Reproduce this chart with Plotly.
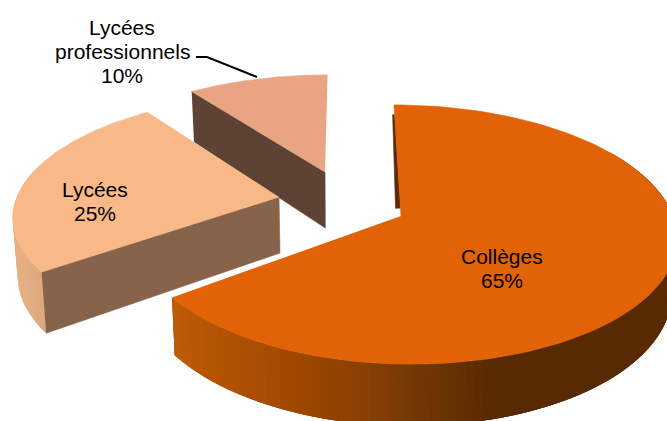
import math
import numpy as np
import plotly.graph_objects as go

# Share of each school type
names = ["Collèges", "Lycées", "Lycées professionnels"]
values = [65, 25, 10]
label_lines = [["Collèges"], ["Lycées"], ["Lycées", "professionnels"]]

WIDTH, HEIGHT = 667, 421
VANISH_X = 345      # horizontal vanishing point of the perspective
PERSP = 0.143       # foreshortening along the depth direction
TAPER = 0.015       # lower rim narrows slightly toward the vanishing point

# Per-slice placement of the exploded wedges (fl / fr: half-width left and right of the apex)
slices = [
    dict(apex=(401, 216), fl=265, fr=272, g=127, depth=53, top="#E26307"),
    dict(apex=(279, 197), fl=262, fr=262, g=117, depth=56, top="#F9B888"),
    dict(apex=(325, 172), fl=257, fr=257, g=111, depth=56, top="#E9A583"),
]
side_stops_x = [170, 300, 400, 500, 667]
side_stops_rgb = [(192, 92, 6), (160, 72, 0), (125, 60, 5), (88, 42, 3), (88, 42, 3)]


def project(s, theta, r=1.0, down=0.0):
    """Map a point of the slice's disc (clockwise from 12 o'clock) to screen pixels."""
    X, Y = r * math.sin(theta), r * math.cos(theta)
    w = 1 + PERSP * Y
    ax, ay = s["apex"]
    f = s["fr"] if X > 0 else s["fl"]
    x = VANISH_X + (ax - VANISH_X + f * X) / w
    y = ay - s["g"] * Y / w
    if down:
        d = s["depth"] / w
        x = VANISH_X + (x - VANISH_X) * (1 - TAPER)
        y += d
    return x, y


def polygon(fig, pts, color, edge=0.6):
    fig.add_trace(go.Scatter(
        x=[p[0] for p in pts], y=[p[1] for p in pts],
        mode="lines", fill="toself", fillcolor=color,
        line=dict(color=color, width=edge), hoverinfo="skip", showlegend=False,
    ))


def curved_side(fig, s, a0, a1, color_of, n=60):
    # Each band overlaps the following ones so no seams appear between shades
    angles = np.linspace(a0, a1, n + 1)
    for k, t0 in enumerate(angles[:-1]):
        t1 = angles[min(k + 3, n)]
        arc = np.linspace(t0, t1, 4)
        pts = [project(s, t) for t in arc] + [project(s, t, down=1) for t in arc[::-1]]
        polygon(fig, pts, color_of(pts[0][0]), edge=0)


def orange_side(x):
    rgb = [np.interp(x, side_stops_x, [c[i] for c in side_stops_rgb]) for i in range(3)]
    return "rgb(%d,%d,%d)" % tuple(rgb)


def tan_side(x):
    t = min(max((x - 12) / 35, 0), 1)
    return "rgb(%d,%d,%d)" % (232 - 12 * t, 178 - 12 * t, 135 - 10 * t)


# Angular extent of every slice from its value
total = sum(values)
edges = np.cumsum([0] + values) / total * 2 * math.pi
spans = list(zip(edges[:-1], edges[1:]))

fig = go.Figure()


def top_face(fig, s, a0, a1):
    arc = [project(s, t) for t in np.linspace(a0, a1, 120)]
    polygon(fig, [project(s, 0, r=0)] + arc, s["top"])


# Back to front: vocational wedge, lycée wedge, collège wedge
s = slices[2]
a0, a1 = spans[2]
polygon(fig, [project(s, a0), project(s, 0, r=0), project(s, 0, r=0, down=1), project(s, a0, down=1)], "#5E4335")
top_face(fig, s, a0, a1)

s = slices[1]
a0, a1 = spans[1]
curved_side(fig, s, a0 + 0.9, a0, tan_side, n=24)
polygon(fig, [project(s, a0), project(s, 0, r=0), project(s, 0, r=0, down=1), project(s, a0, down=1)], "#86634A")
top_face(fig, s, a0, a1)

s = slices[0]
a0, a1 = spans[0]
curved_side(fig, s, 1.0, a1, orange_side, n=110)
# Sliver of the inner wall seen along the start edge of the big wedge
ax0, ay0 = project(s, 0, r=0.06)
ax1, ay1 = project(s, 0, r=0.9)
polygon(fig, [(ax0, ay0), (ax1, ay1), (ax1 - 2, ay1), (ax0 - 5, ay0)], "#5A2A04")
top_face(fig, s, a0, a1)

# Data labels, one annotation per line for tight leading
label_font = dict(family="Liberation Sans, Arial, sans-serif", size=21, color="#000000")
LINE = 24
label_anchor = [(502, 256), (95, 189), (122, 27)]
annotations = []
for lines, value, (lx, ly) in zip(label_lines, values, label_anchor):
    for i, text in enumerate(lines + [f"{value}%"]):
        annotations.append(dict(
            x=lx, y=ly + i * LINE, xref="x", yref="y", text=text, showarrow=False,
            xanchor="center", yanchor="middle", font=label_font,
        ))

fig.update_layout(
    width=WIDTH, height=HEIGHT, margin=dict(l=0, r=0, t=0, b=0),
    paper_bgcolor="white", plot_bgcolor="white", showlegend=False,
    xaxis=dict(range=[0, WIDTH], visible=False, fixedrange=True),
    yaxis=dict(range=[HEIGHT, 0], visible=False, fixedrange=True),
    annotations=annotations,
    shapes=[dict(type="path", path="M 196 57 L 207 57 L 257 77",
                 line=dict(color="#000000", width=2), xref="x", yref="y")],
)

fig.write_html("out.html", config={"displayModeBar": False})
